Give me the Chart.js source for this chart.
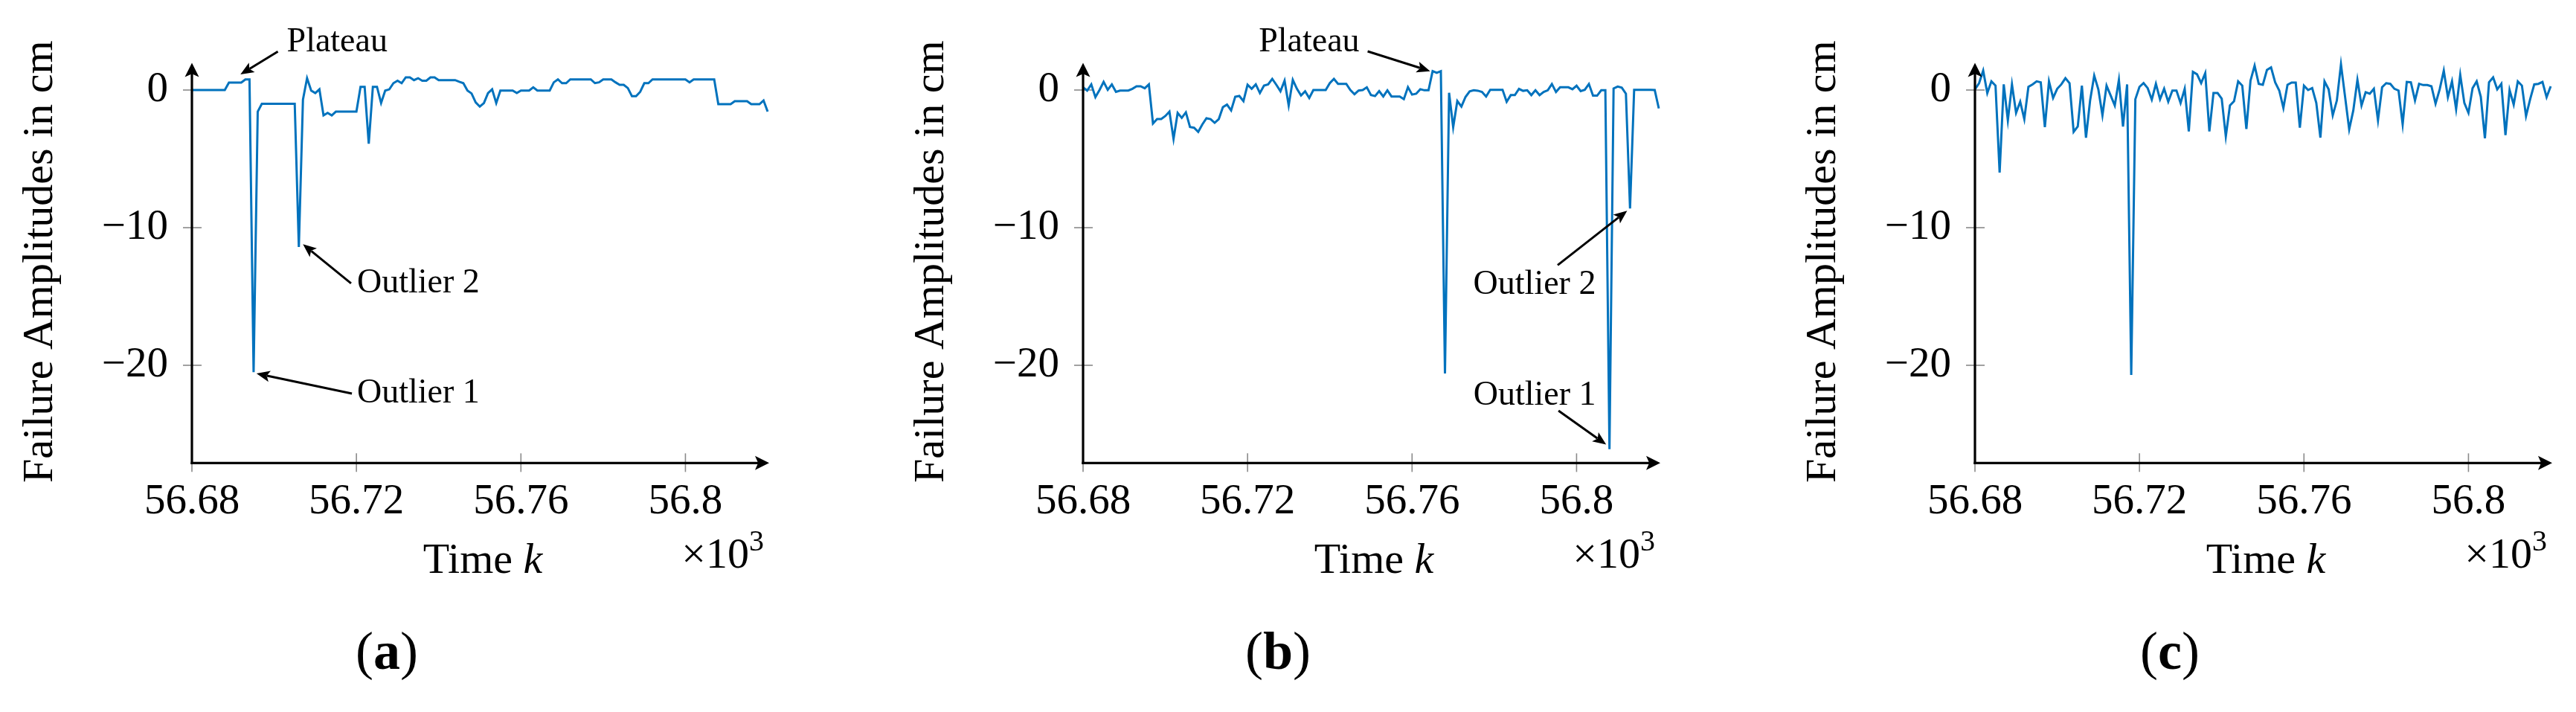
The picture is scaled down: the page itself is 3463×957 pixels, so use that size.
<!DOCTYPE html>
<html>
<head>
<meta charset="utf-8">
<script src="https://cdn.jsdelivr.net/npm/chart.js@4.4.1/dist/chart.umd.min.js"></script>
<style>
  html, body { margin: 0; padding: 0; background: #ffffff; }
  #figure { position: relative; width: 3463px; height: 957px; overflow: hidden; background: #ffffff; }
  .panel { position: absolute; top: 0; }
  .caption { position: absolute; top: 875px; transform: translate(-50%, -50%);
             font-family: "Liberation Serif", serif; font-size: 72px; line-height: 1; color: #000; white-space: nowrap; }
</style>
</head>
<body>
<div id="figure">
  <canvas class="panel" id="chartA" width="1066" height="957" style="left:0px"></canvas>
  <canvas class="panel" id="chartB" width="1066" height="957" style="left:1198px"></canvas>
  <canvas class="panel" id="chartC" width="1066" height="957" style="left:2397px"></canvas>
  <div class="caption" style="left:520px">(<b>a</b>)</div>
  <div class="caption" style="left:1718px">(<b>b</b>)</div>
  <div class="caption" style="left:2917px">(<b>c</b>)</div>
</div>
<script>
// ---------------- data ----------------
const TIME_K = [
  56680, 56681, 56682, 56683, 56684, 56685, 56686, 56687, 56688, 56689,
  56690, 56691, 56692, 56693, 56694, 56695, 56696, 56697, 56698, 56699,
  56700, 56701, 56702, 56703, 56704, 56705, 56706, 56707, 56708, 56709,
  56710, 56711, 56712, 56713, 56714, 56715, 56716, 56717, 56718, 56719,
  56720, 56721, 56722, 56723, 56724, 56725, 56726, 56727, 56728, 56729,
  56730, 56731, 56732, 56733, 56734, 56735, 56736, 56737, 56738, 56739,
  56740, 56741, 56742, 56743, 56744, 56745, 56746, 56747, 56748, 56749,
  56750, 56751, 56752, 56753, 56754, 56755, 56756, 56757, 56758, 56759,
  56760, 56761, 56762, 56763, 56764, 56765, 56766, 56767, 56768, 56769,
  56770, 56771, 56772, 56773, 56774, 56775, 56776, 56777, 56778, 56779,
  56780, 56781, 56782, 56783, 56784, 56785, 56786, 56787, 56788, 56789,
  56790, 56791, 56792, 56793, 56794, 56795, 56796, 56797, 56798, 56799,
  56800, 56801, 56802, 56803, 56804, 56805, 56806, 56807, 56808, 56809,
  56810, 56811, 56812, 56813, 56814, 56815, 56816, 56817, 56818, 56819,
  56820
];

const AMP_A = [
  0, 0, 0, 0, 0, 0, 0, 0, 0, 0.54,
  0.54, 0.54, 0.54, 0.77, 0.77, -20.5, -1.57, -1.0, -1.0, -1.0,
  -1.0, -1.0, -1.0, -1.0, -1.0, -1.0, -11.4, -0.7, 0.86, -0.04,
  -0.22, 0.05, -1.84, -1.66, -1.84, -1.57, -1.57, -1.57, -1.57, -1.57,
  -1.57, 0.23, 0.23, -3.9, 0.23, 0.23, -0.94, -0.04, 0.05, 0.5,
  0.68, 0.5, 0.92, 0.92, 0.72, 0.86, 0.68, 0.68, 0.92, 0.92,
  0.72, 0.72, 0.72, 0.72, 0.72, 0.6, 0.5, -0.04, -0.25, -0.9,
  -1.2, -0.95, -0.22, 0.05, -0.95, -0.04, -0.04, -0.04, -0.04, -0.22,
  -0.04, -0.04, -0.04, 0.2, -0.04, -0.04, -0.04, -0.04, 0.56, 0.77,
  0.5, 0.5, 0.77, 0.77, 0.77, 0.77, 0.77, 0.77, 0.5, 0.56,
  0.77, 0.77, 0.77, 0.56, 0.38, 0.38, 0.14, -0.45, -0.45, -0.13,
  0.5, 0.5, 0.77, 0.77, 0.77, 0.77, 0.77, 0.77, 0.77, 0.77,
  0.77, 0.56, 0.77, 0.77, 0.77, 0.77, 0.77, 0.77, -1.03, -1.03,
  -1.03, -1.03, -0.81, -0.81, -0.81, -0.81, -1.03, -1.03, -1.03, -0.76,
  -1.57
];

const AMP_B = [
  0.2, -0.04, 0.41, -0.52, 0.0, 0.59, 0.02, 0.41, -0.13, -0.04,
  -0.04, -0.04, 0.09, 0.27, 0.27, 0.13, 0.41, -2.43, -2.11, -2.11,
  -1.89, -1.57, -3.55, -1.66, -2.02, -1.62, -2.69, -2.74, -3.04, -2.5,
  -2.05, -2.11, -2.38, -2.11, -1.24, -1.06, -1.48, -0.49, -0.43, -0.81,
  0.38, 0.09, 0.41, -0.22, 0.32, 0.41, 0.81, 0.38, -0.09, 0.68,
  -1.12, 0.74, 0.09, -0.4, -0.09, -0.58, 0.0, 0.0, 0.0, 0.0,
  0.5, 0.81, 0.45, 0.45, 0.45, 0.0, -0.31, -0.04, 0.0, 0.2,
  -0.36, -0.44, -0.08, -0.47, -0.02, -0.47, -0.47, -0.47, -0.66, 0.21,
  -0.33, -0.27, 0.06, -0.02, -0.02, 1.37, 1.25, 1.37, -20.6, -0.2,
  -2.7, -0.8, -1.2, -0.5, -0.1, -0.02, -0.05, -0.14, -0.47, 0.02,
  0.02, 0.02, 0.02, -0.85, -0.37, -0.37, 0.08, -0.06, -0.02, -0.37,
  -0.02, -0.37, -0.14, -0.02, 0.44, -0.14, 0.2, 0.2, 0.2, 0.06,
  0.31, -0.08, 0.02, 0.44, -0.41, -0.41, -0.02, -0.02, -26.1, 0.11,
  0.25, 0.17, -0.27, -8.6, 0.02, 0.02, 0.02, 0.02, 0.02, 0.0,
  -1.34
];

const AMP_C = [
  0.05, 0.5, 1.41, -0.22, 0.63, 0.32, -6.0, 0.41, -2.2, 0.41,
  -1.66, -0.85, -2.11, 0.23, 0.41, 0.63, 0.56, -2.69, 0.63, -0.58,
  0.09, 0.41, 0.86, 0.5, -3.04, -2.65, 0.32, -3.46, -0.76, 1.05,
  0.05, -1.84, 0.32, -0.4, -1.12, 0.74, -2.65, 0.41, -20.7, -0.67,
  0.23, 0.5, 0.14, -0.7, 0.45, -0.67, 0.09, -0.85, -0.04, -0.04,
  -0.94, 0.09, -3.01, 1.32, 1.14, 0.5, 1.23, -3.01, -0.22, -0.22,
  -0.63, -3.37, -1.12, -0.81, 0.63, 0.32, -2.83, 0.68, 1.77, 0.45,
  0.38, 1.46, 1.64, 0.56, -0.04, -1.3, 0.38, 0.54, 0.54, -2.74,
  0.32, 0.0, 0.14, -0.94, -3.46, 0.63, 0.05, -1.84, -0.76, 1.86,
  -0.49, -2.86, -1.48, 0.74, -1.12, -0.16, -0.27, 0.09, -2.2, 0.2,
  0.5, 0.45, 0.09, -0.04, -2.5, 0.59, 0.56, -0.76, 0.45, 0.36,
  0.36, 0.27, -0.99, 0.05, 1.41, -0.52, 0.63, -1.39, 1.1, -0.94,
  -1.66, 0.14, 0.63, -0.49, -3.51, 0.56, 0.92, 0.05, 0.45, -3.28,
  0.0, -1.06, 0.63, 0.32, -1.89, -0.67, 0.41, 0.45, 0.59, -0.52,
  0.27
];

const X_TICK_VALUES = [56680, 56720, 56760, 56800];
const X_TICK_LABELS = ['56.68', '56.72', '56.76', '56.8'];
const Y_TICK_VALUES = [0, -10, -20];
const Y_TICK_LABELS = ['0', '\u221210', '\u221220'];

const X_MIN = 56680, X_MAX = 56820;
const Y_MIN = -27.1, Y_MAX = 2.0;

const Y_TITLE = 'Failure Amplitudes in cm';
const X_TITLE_MAIN = 'Time ';
const X_TITLE_VAR = 'k';
const X_SCALE_BASE = '\u00d710';
const X_SCALE_EXP = '3';

const NOTES_A = [
  { text: 'Plateau',   tip: [56691.8, 1.14],  tail: [56700.9, 2.8],    align: 'left', baseline: 'alphabetic', dx: 12, dy: 0 },
  { text: 'Outlier 2', tip: [56707.0, -11.2], tail: [56718.7, -14.05], align: 'left', baseline: 'middle',     dx: 8,  dy: 0 },
  { text: 'Outlier 1', tip: [56695.7, -20.6], tail: [56718.9, -22.05], align: 'left', baseline: 'middle',     dx: 7,  dy: 0 }
];
const NOTES_B = [
  { text: 'Plateau',   tip: [56764.4, 1.37],   tail: [56749.2, 2.81],  align: 'right',  baseline: 'alphabetic', dx: -11, dy: 0 },
  { text: 'Outlier 2', tip: [56812.3, -8.77],  tail: [56795.4, -12.72], align: 'center', baseline: 'alphabetic', dx: -31, dy: 39 },
  { text: 'Outlier 1', tip: [56807.2, -25.76], tail: [56795.6, -23.3],  align: 'center', baseline: 'alphabetic', dx: -32, dy: -8 }
];
const NOTES_C = [];

// ---------------- style ----------------
const LINE_COLOR = 'rgb(0,114,189)';
const FONT = '"Liberation Serif", serif';
const TICK_GRAY = '#8a8a8a';
Chart.defaults.font.family = FONT;

function arrowHead(ctx, x, y, ang, len, half) {
  ctx.save();
  ctx.translate(x, y);
  ctx.rotate(ang);
  ctx.beginPath();
  ctx.moveTo(0, 0);
  ctx.lineTo(-len, -half);
  ctx.lineTo(-len * 0.78, 0);
  ctx.lineTo(-len, half);
  ctx.closePath();
  ctx.fill();
  ctx.restore();
}

function arrow(ctx, x1, y1, x2, y2, len, half, lw) {
  const a = Math.atan2(y2 - y1, x2 - x1);
  ctx.beginPath();
  ctx.moveTo(x1, y1);
  ctx.lineTo(x2 - Math.cos(a) * len * 0.8, y2 - Math.sin(a) * len * 0.8);
  ctx.lineWidth = lw;
  ctx.stroke();
  arrowHead(ctx, x2, y2, a, len, half);
}

const decorPlugin = {
  id: 'decor',
  beforeDatasetsDraw(chart) {
    const { ctx, chartArea: ca, scales: { x, y } } = chart;
    ctx.save();
    ctx.strokeStyle = TICK_GRAY;
    ctx.lineWidth = 1.6;
    Y_TICK_VALUES.forEach(v => {
      const py = y.getPixelForValue(v);
      ctx.beginPath(); ctx.moveTo(ca.left - 12, py); ctx.lineTo(ca.left + 13, py); ctx.stroke();
    });
    X_TICK_VALUES.forEach(v => {
      const px = x.getPixelForValue(v);
      ctx.beginPath(); ctx.moveTo(px, ca.bottom - 13); ctx.lineTo(px, ca.bottom + 12); ctx.stroke();
    });
    ctx.restore();
  },
  afterDatasetsDraw(chart, args, opts) {
    const { ctx, chartArea: ca, scales: { x, y } } = chart;
    ctx.save();
    // axis lines with arrows
    ctx.strokeStyle = '#000'; ctx.fillStyle = '#000';
    ctx.lineWidth = 3.2;
    ctx.beginPath(); ctx.moveTo(ca.left, ca.bottom + 1.6); ctx.lineTo(ca.left, ca.top + 8); ctx.stroke();
    arrowHead(ctx, ca.left, ca.top + 0.5, -Math.PI / 2, 19, 9.5);
    ctx.beginPath(); ctx.moveTo(ca.left - 1.6, ca.bottom); ctx.lineTo(ca.right - 6, ca.bottom); ctx.stroke();
    arrowHead(ctx, ca.right + 2, ca.bottom, 0, 19, 9.5);

    ctx.fillStyle = '#000';

    // y title, rotated, without width compression
    ctx.save();
    ctx.font = '58px ' + FONT;
    ctx.textAlign = 'center';
    ctx.textBaseline = 'alphabetic';
    ctx.translate(ca.left - 188, (ca.top + ca.bottom) / 2 - 1.5);
    ctx.rotate(-Math.PI / 2);
    ctx.fillText(Y_TITLE, 0, 0);
    ctx.restore();

    // x title "Time k"
    ctx.textBaseline = 'alphabetic';
    const fMain = '58px ' + FONT, fIt = 'italic 58px ' + FONT;
    ctx.font = fMain; const w1 = ctx.measureText(X_TITLE_MAIN).width;
    ctx.font = fIt; const w2 = ctx.measureText(X_TITLE_VAR).width;
    const cx = (ca.left + ca.right) / 2 + 4;
    const by = ca.bottom + 148;
    ctx.textAlign = 'left';
    ctx.font = fMain; ctx.fillText(X_TITLE_MAIN, cx - (w1 + w2) / 2, by);
    ctx.font = fIt; ctx.fillText(X_TITLE_VAR, cx - (w1 + w2) / 2 + w1, by);

    // scale factor x10^3
    const fExp = '40px ' + FONT;
    ctx.font = fMain; const wb = ctx.measureText(X_SCALE_BASE).width;
    ctx.font = fExp; const we = ctx.measureText(X_SCALE_EXP).width;
    const rx = ca.right - 5;
    const sby = ca.bottom + 141;
    ctx.font = fMain; ctx.fillText(X_SCALE_BASE, rx - we - wb, sby);
    ctx.font = fExp; ctx.fillText(X_SCALE_EXP, rx - we, sby - 23);

    // annotations
    const notes = (opts && opts.notes) || [];
    notes.forEach(n => {
      const tx = x.getPixelForValue(n.tip[0]), ty = y.getPixelForValue(n.tip[1]);
      const sx = x.getPixelForValue(n.tail[0]), sy = y.getPixelForValue(n.tail[1]);
      ctx.strokeStyle = '#000'; ctx.fillStyle = '#000';
      arrow(ctx, sx, sy, tx, ty, 18, 7.5, 3);
      ctx.font = '46px ' + FONT;
      ctx.textAlign = n.align;
      ctx.textBaseline = n.baseline;
      ctx.fillText(n.text, sx + n.dx, sy + n.dy);
    });
    ctx.restore();
  }
};

function makeChart(canvasId, times, values, notes) {
  const points = times.map((t, i) => ({ x: t, y: values[i] }));
  return new Chart(document.getElementById(canvasId), {
    type: 'line',
    data: {
      datasets: [{
        data: points,
        borderColor: LINE_COLOR,
        borderWidth: 3,
        pointRadius: 0,
        tension: 0,
        fill: false,
        clip: false,
        borderJoinStyle: 'miter'
      }]
    },
    options: {
      responsive: false,
      devicePixelRatio: 1,
      animation: false,
      events: [],
      layout: { padding: { left: 0, top: 84, right: 34, bottom: 134.65 } },
      plugins: {
        legend: { display: false },
        tooltip: { enabled: false },
        title: { display: false },
        decor: { notes: notes }
      },
      scales: {
        x: {
          type: 'linear',
          min: X_MIN, max: X_MAX,
          grid: { display: false, drawTicks: false },
          border: { display: false },
          ticks: {
            autoSkip: false, maxRotation: 0, minRotation: 0,
            padding: 18,
            color: '#000',
            font: { family: FONT, size: 57 },
            callback: (v) => { const i = X_TICK_VALUES.indexOf(v); return i >= 0 ? X_TICK_LABELS[i] : ''; }
          },
          afterBuildTicks: (s) => { s.ticks = X_TICK_VALUES.map(v => ({ value: v })); },
          afterFit: (s) => { s.height = 200; }
        },
        y: {
          type: 'linear',
          min: Y_MIN, max: Y_MAX,
          grid: { display: false, drawTicks: false },
          border: { display: false },
          ticks: {
            autoSkip: false,
            padding: 32,
            color: '#000',
            font: { family: FONT, size: 57 },
            callback: (v) => { const i = Y_TICK_VALUES.indexOf(v); return i >= 0 ? Y_TICK_LABELS[i] : ''; }
          },
          title: { display: false },
          afterBuildTicks: (s) => { s.ticks = Y_TICK_VALUES.map(v => ({ value: v })); },
          afterFit: (s) => { s.width = 258; }
        }
      }
    },
    plugins: [decorPlugin]
  });
}

makeChart('chartA', TIME_K, AMP_A, NOTES_A);
makeChart('chartB', TIME_K, AMP_B, NOTES_B);
makeChart('chartC', TIME_K, AMP_C, NOTES_C);
</script>
</body>
</html>
